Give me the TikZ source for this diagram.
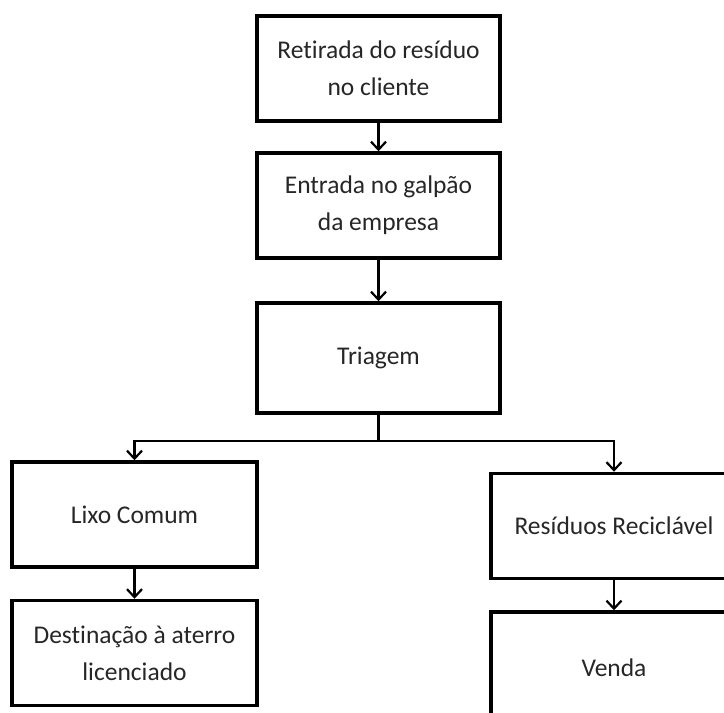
\documentclass[tikz,border=0pt]{standalone}
\usepackage{fontspec}
\setmainfont{Carlito}[RawFeature=-liga]
\usetikzlibrary{arrows.meta}

\tikzset{
  bloco/.style={draw, line width=3.5pt, minimum width=243pt, minimum height=105pt,
    inner sep=0pt, align=center, font=\fontsize{25.5}{37}\selectfont, text=black!85},
  seta/.style={line width=2.2pt, -{Straight Barb[length=8pt,width=15pt,line width=2.2pt]}}
}

\begin{document}
\begin{tikzpicture}[x=1pt,y=-1pt]
%% moldura
\useasboundingbox (0,0) rectangle (724,713);
\clip (0,0) rectangle (724,713);
%% caixas
\node[bloco] (retirada) at (378.5,68.5) {Retirada do resíduo\\no cliente};
\node[bloco] (entrada) at (378.5,205.5) {Entrada no galpão\\da empresa};
\node[bloco, minimum height=110pt] (triagem) at (378.5,358) {Triagem};
\node[bloco, minimum width=245pt] (lixo) at (134.5,514.5) {Lixo Comum};
\node[bloco, minimum width=245pt] (destino) at (134.5,653) {Destinação à aterro\\licenciado};
\node[bloco, minimum width=246pt] (reciclavel) at (614,526) {Resíduos Reciclável};
\node[bloco, minimum width=246pt, minimum height=112pt] (venda) at (614,668) {Venda};
\coordinate (divisao) at (378.5,441);
%% setas
\draw[seta] (retirada) -- (entrada);
\draw[seta] (entrada) -- (triagem);
\draw[line width=2.2pt] (triagem) -- (divisao);
\draw[seta] (divisao) -| (lixo);
\draw[seta] (divisao) -| (reciclavel);
\draw[seta] (lixo) -- (destino);
\draw[seta] (reciclavel) -- (venda);
\end{tikzpicture}
\end{document}
